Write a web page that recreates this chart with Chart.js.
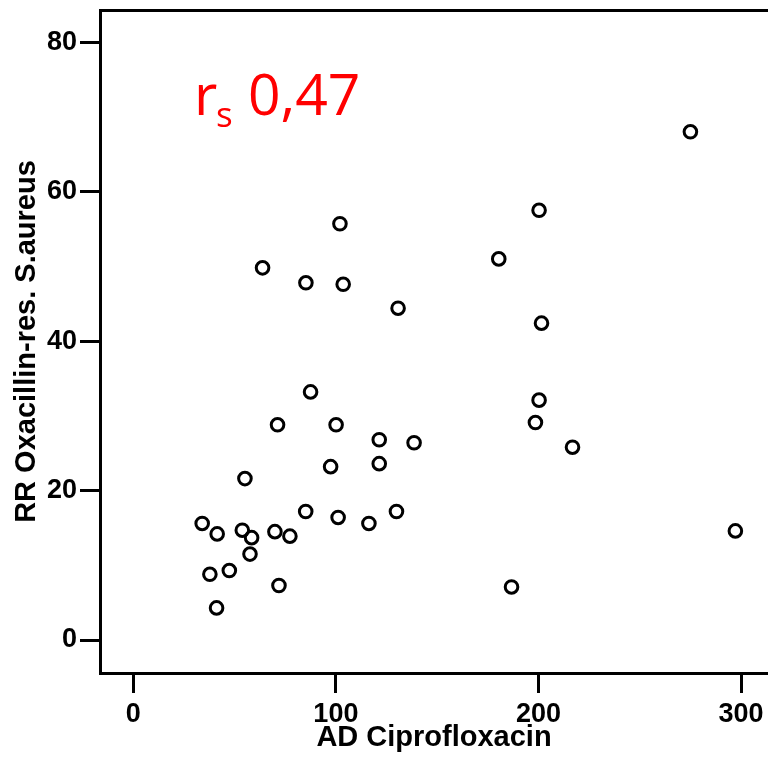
<!DOCTYPE html>
<html>
<head>
<meta charset="utf-8">
<script src="https://cdn.jsdelivr.net/npm/chart.js@4/dist/chart.umd.min.js"></script>
<style>
  html, body { margin: 0; padding: 0; background: #fff; overflow: hidden; }
  .chart-box { width: 768px; height: 767px; position: relative; }
</style>
</head>
<body>
<div class="chart-box"><canvas id="scatterChart"></canvas></div>
<script>
// AD Ciprofloxacin (x) vs RR Oxacillin-res. S.aureus (y)
const adCipro = [275.0, 102.0, 200.3, 63.8, 85.2, 103.6, 180.4, 130.7, 201.5, 87.5,
  200.3, 71.2, 100.1, 198.5, 121.4, 138.6, 216.8, 97.4, 121.4, 55.1,
  85.1, 129.9, 101.1, 116.3, 34.0, 41.4, 53.8, 58.4, 69.9, 77.3,
  57.6, 37.8, 47.4, 71.9, 41.1, 186.7, 297.2];
const rrOxa = [68.0, 55.7, 57.5, 49.8, 47.8, 47.6, 51.0, 44.4, 42.4, 33.2,
  32.1, 28.8, 28.8, 29.1, 26.8, 26.4, 25.8, 23.2, 23.6, 21.6,
  17.2, 17.2, 16.4, 15.6, 15.6, 14.2, 14.7, 13.7, 14.5, 13.9,
  11.5, 8.8, 9.3, 7.3, 4.3, 7.1, 14.6];

const xTicks = [0, 100, 200, 300];
const yTicks = [0, 20, 40, 60, 80];

const corrLabel = { r: 'r', sub: 's', value: '0,47', x: 31.4, y: 70.3 };

const points = adCipro.map((x, i) => ({ x: x, y: rrOxa[i] }));

const axisFont = { family: "'Liberation Sans', Arial, sans-serif", size: 27, weight: 'bold' };
const titleFont = { family: "'Liberation Sans', Arial, sans-serif", size: 29, weight: 'bold' };

// keep the plot area fixed, no extra room for edge labels
const noPad = s => {
  s.paddingTop = 0;
  s.paddingBottom = 0;
  s.paddingLeft = 0;
  s.paddingRight = 0;
};

// red correlation text in the upper left
const corrPlugin = {
  id: 'corrText',
  afterDraw(chart) {
    const ctx = chart.ctx;
    const px = chart.scales.x.getPixelForValue(corrLabel.x);
    const py = chart.scales.y.getPixelForValue(corrLabel.y);
    ctx.save();
    ctx.fillStyle = '#ff0000';
    ctx.textBaseline = 'alphabetic';
    ctx.textAlign = 'left';
    ctx.font = "57px 'Comic Sans MS', 'Open Sans', sans-serif";
    ctx.fillText(corrLabel.r, px - 3, py);
    ctx.font = "35px 'Comic Sans MS', 'Open Sans', sans-serif";
    ctx.fillText(corrLabel.sub, px + 19, py + 12);
    ctx.font = "57px 'Comic Sans MS', 'Open Sans', sans-serif";
    ctx.fillText(corrLabel.value, px + 51, py);
    ctx.restore();
  }
};

new Chart(document.getElementById('scatterChart'), {
  type: 'scatter',
  data: {
    datasets: [{
      data: points,
      pointStyle: 'circle',
      pointRadius: 6.3,
      pointHoverRadius: 6.3,
      pointBorderWidth: 3,
      pointBorderColor: '#000',
      pointBackgroundColor: 'rgba(0,0,0,0)'
    }]
  },
  options: {
    responsive: true,
    maintainAspectRatio: false,
    animation: false,
    layout: { padding: 0, autoPadding: false },
    plugins: {
      legend: { display: false },
      tooltip: { enabled: false }
    },
    scales: {
      x: {
        type: 'linear',
        position: 'bottom',
        min: -16.44,
        max: 313.3,
        afterBuildTicks: s => { s.ticks = xTicks.map(v => ({ value: v })); },
        afterFit: s => { s.height = 94; noPad(s); },
        grid: {
          drawOnChartArea: false,
          drawTicks: true,
          tickLength: 20,
          tickWidth: 3,
          lineWidth: 3,
          tickColor: '#000',
          color: '#000'
        },
        border: { display: true, color: '#000', width: 3 },
        ticks: { color: '#000', font: axisFont, padding: 5, maxRotation: 0 },
        title: {
          display: true,
          text: 'AD Ciprofloxacin',
          color: '#000',
          font: titleFont,
          padding: { top: 0, bottom: 12 }
        }
      },
      x2: {
        type: 'linear',
        position: 'top',
        display: true,
        afterFit: s => { s.height = 10; noPad(s); },
        grid: { display: false, drawTicks: false },
        border: { display: true, color: '#000', width: 3 },
        ticks: { display: false }
      },
      y: {
        type: 'linear',
        min: -4.41,
        max: 84.3,
        afterBuildTicks: s => { s.ticks = yTicks.map(v => ({ value: v })); },
        afterFit: s => { s.width = 100; noPad(s); },
        grid: {
          drawOnChartArea: false,
          drawTicks: true,
          tickLength: 20,
          tickWidth: 3,
          lineWidth: 3,
          tickColor: '#000',
          color: '#000'
        },
        border: { display: true, color: '#000', width: 3 },
        ticks: { color: '#000', font: axisFont, padding: 3 },
        title: {
          display: true,
          text: 'RR Oxacillin-res. S.aureus',
          color: '#000',
          font: titleFont,
          padding: { top: 10, bottom: 10 }
        }
      }
    }
  },
  plugins: [corrPlugin]
});
</script>
</body>
</html>
